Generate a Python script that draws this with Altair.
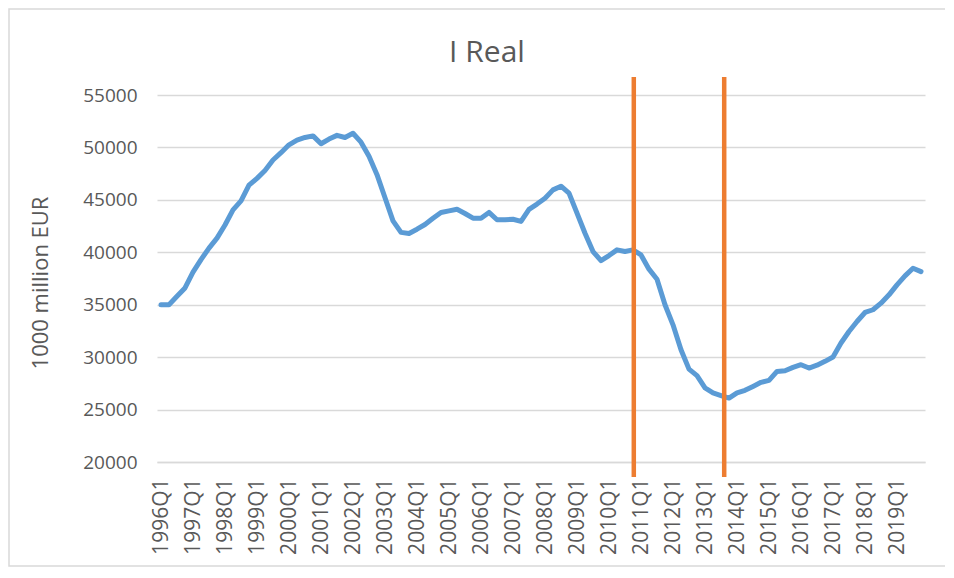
import altair as alt
import pandas as pd

# Quarterly categories 1996Q1 .. 2019Q4
years = list(range(1996, 2020))
quarters = [f"{y}Q{q}" for y in years for q in range(1, 5)]

# I Real, 1000 million EUR
i_real = [
    35000, 35000, 35800, 36600,   # 1996
    38100, 39300, 40400, 41350,   # 1997
    42600, 44050, 44900, 46400,   # 1998
    47050, 47800, 48800, 49500,   # 1999
    50250, 50700, 50950, 51100,   # 2000
    50350, 50800, 51150, 50950,   # 2001
    51350, 50500, 49150, 47400,   # 2002
    45200, 43000, 41900, 41800,   # 2003
    42200, 42650, 43250, 43800,   # 2004
    43950, 44100, 43700, 43250,   # 2005
    43250, 43800, 43100, 43100,   # 2006
    43150, 42950, 44100, 44600,   # 2007
    45150, 45950, 46300, 45640,   # 2008
    43730, 41820, 40070, 39210,   # 2009
    39690, 40230, 40070, 40230,   # 2010
    39750, 38390, 37430, 35000,   # 2011
    33080, 30700, 28860, 28240,   # 2012
    27060, 26590, 26340, 26100,   # 2013
    26600, 26840, 27210, 27600,   # 2014
    27780, 28640, 28700, 29020,   # 2015
    29280, 28960, 29230, 29600,   # 2016
    30010, 31350, 32450, 33400,   # 2017
    34260, 34520, 35150, 35940,   # 2018
    36890, 37750, 38480, 38160,   # 2019
]

# Vertical marker lines (position in quarter index units)
marker_pos = [59.1, 70.4]

title_text = ["I Real"]
tick_labels = quarters[::4]
tick_values = list(range(0, len(quarters), 4))
y_ticks = list(range(20000, 55001, 5000))

df = pd.DataFrame({"t": list(range(len(quarters))), "quarter": quarters, "value": i_real})
markers = pd.DataFrame({"t": marker_pos})
titles = pd.DataFrame({"label": title_text})

FONT = "Open Sans"
GREY = "#595959"
GRID = "#d9d9d9"

W, H = 768, 367

label_expr = "[" + ",".join(f"'{l}'" for l in tick_labels) + "][round(datum.value / 4)]"

x_scale = alt.Scale(domain=[-0.5, len(quarters) - 0.5], nice=False, zero=False)
y_scale = alt.Scale(domain=[20000, 55000], nice=False, zero=False)

x_axis = alt.Axis(
    values=tick_values, labelExpr=label_expr, labelAngle=270, title=None,
    grid=False, ticks=False, domain=True, domainColor=GRID, domainWidth=1.5,
    labelPadding=16, labelFontSize=21, labelColor=GREY, labelFont=FONT,
    labelOverlap=False, labelFlush=False, labelSeparation=0)

line = alt.Chart(df).mark_line(
    color="#5b9bd5", strokeWidth=5, strokeJoin="round", strokeCap="round"
).encode(
    x=alt.X("t:Q", scale=x_scale, axis=x_axis),
    y=alt.Y("value:Q", scale=y_scale, axis=alt.Axis(
        values=y_ticks, format="d", title="1000 million EUR",
        grid=True, gridColor=GRID, gridWidth=1.5, ticks=False, domain=False,
        labelPadding=20, labelFontSize=19, labelColor=GREY, labelFont=FONT,
        titleFont=FONT, titleFontSize=22, titleColor=GREY, titleFontWeight="normal",
        titleX=-117, titleY=H / 2 + 4, titleAngle=270, titleAlign="center",
        titleBaseline="middle")),
)

rules = alt.Chart(markers).mark_rule(color="#ed7d31", strokeWidth=4.5).encode(
    x=alt.X("t:Q", scale=x_scale, axis=x_axis),
    y=alt.value(-18),
    y2=alt.value(H + 15),
)

frame = alt.Chart(pd.DataFrame({"a": [0]})).mark_rect(
    fillOpacity=0, stroke=GRID, strokeWidth=1.5
).encode(
    x=alt.value(-148), x2=alt.value(W + 22),
    y=alt.value(-86), y2=alt.value(H + 104),
)

title = alt.Chart(titles).mark_text(
    font=FONT, fontSize=30, color=GREY, align="center", baseline="middle"
).encode(
    text="label:N",
    x=alt.value(330),
    y=alt.value(-42),
)

chart = alt.layer(frame, line, rules, title).properties(
    width=W, height=H,
    autosize=alt.AutoSizeParams(type="none"),
    padding={"left": 149, "top": 87, "right": 20, "bottom": 106},
).configure_view(stroke=None).configure_axisX(labelOverlap=False)

chart.save("out.html", embed_options={"renderer": "svg", "actions": False})
